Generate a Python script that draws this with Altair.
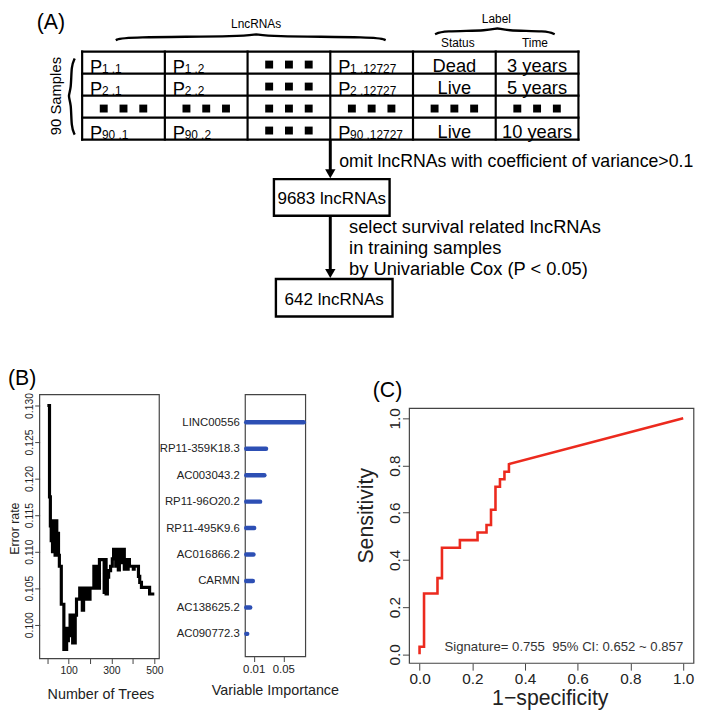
import altair as alt
import pandas as pd

# ================= DATA =================
# Panel A: schematic text
sample_ids = ["1", "2", "", "90"]          # "" -> ellipsis row
lnc_ids = ["1", "2", "", "12727"]          # "" -> ellipsis column
status_vals = ["Dead", "Live", "", "Live"]
time_vals = ["3 years", "5 years", "", "10 years"]
lnc_header = "LncRNAs"
label_header = "Label"
label_columns = ["Status", "Time"]
samples_text = "90 Samples"
flow_counts = ["9683 lncRNAs", "642 lncRNAs"]
flow_steps = [
    ["omit lncRNAs with coefficient of variance>0.1"],
    ["select survival related lncRNAs", "in training samples", "by Univariable Cox (P < 0.05)"],
]
panel_tags = ["(A)", "(B)", "(C)"]

# Panel B (left): error rate vs number of trees (step values)
trees = [1, 11, 15, 19, 22, 25, 28, 31, 34, 37, 41, 45, 49, 53, 57, 66, 78, 83, 87, 91,
         95, 99, 103, 107, 111, 115, 119, 123, 127, 131, 137, 152, 164, 170, 180, 186, 195, 200,
         218, 222, 226, 230, 236, 240, 244, 266, 270, 275, 281, 287, 296, 304, 310, 320, 324,
         332, 337, 347, 351, 360, 364, 372, 378, 384, 402, 406, 426, 432, 440, 478, 500]
error_rate = [0.1300, 0.1175, 0.1135, 0.1115, 0.1142, 0.1100, 0.1142, 0.1105, 0.1142, 0.1095,
              0.1142, 0.1095, 0.1125, 0.1095, 0.1080, 0.1028, 0.0966, 0.0995, 0.0966, 0.0995,
              0.0978, 0.0995, 0.0985, 0.1013, 0.0990, 0.1013, 0.0975, 0.1013, 0.0975, 0.1013,
              0.1035, 0.1050, 0.1020, 0.1050, 0.1035, 0.1050, 0.1035, 0.1050,
              0.1080, 0.1055, 0.1080, 0.1050, 0.1075, 0.1050, 0.1089, 0.1044, 0.1089, 0.1042,
              0.1065, 0.1074, 0.1080, 0.1090, 0.1103, 0.1080, 0.1103,
              0.1075, 0.1103, 0.1085, 0.1103, 0.1076, 0.1089, 0.1076, 0.1089, 0.1080, 0.1076,
              0.1080, 0.1066, 0.1058, 0.1051, 0.1042, 0.1042]

# Panel B (right): variable importance
genes = ["LINC00556", "RP11-359K18.3", "AC003043.2", "RP11-96O20.2", "RP11-495K9.6",
         "AC016866.2", "CARMN", "AC138625.2", "AC090772.3"]
importance = [0.0775, 0.0267, 0.0244, 0.0187, 0.0107, 0.0097, 0.0089, 0.0053, 0.0013]

# Panel C: ROC curve corner points
one_minus_spec = [0.0, 0.0, 0.017, 0.017, 0.068, 0.068, 0.085, 0.085, 0.153, 0.153, 0.220, 0.220,
                  0.254, 0.254, 0.271, 0.271, 0.288, 0.288, 0.305, 0.305, 0.322, 0.322, 0.339, 0.339, 1.0]
sensitivity = [0.0, 0.032, 0.032, 0.258, 0.258, 0.323, 0.323, 0.452, 0.452, 0.484, 0.484, 0.516,
               0.516, 0.548, 0.548, 0.613, 0.613, 0.710, 0.710, 0.742, 0.742, 0.774, 0.774, 0.806, 1.0]
roc_note = "Signature= 0.755 \u00a095% CI: 0.652 ~ 0.857"

# ================= LAYOUT / STYLE =================
M = 8                      # page margin: image px -> plot px
def P(v):
    return v - M

FONT = "Liberation Sans"
GREY = "#444444"
TXT = "#222222"
RED = "#ec2a1e"
BLUE = "#2d4fb4"

IX = lambda f: alt.X(f, type="quantitative", scale=None, axis=None)
IY = lambda f: alt.Y(f, type="quantitative", scale=None, axis=None)


def text_layer(rows, size, align="left", baseline="alphabetic", angle=0, color="black"):
    df = pd.DataFrame(rows, columns=["x", "y", "t"])
    return alt.Chart(df).mark_text(fontSize=size, align=align, baseline=baseline,
                                   angle=angle, color=color).encode(x=IX("x"), y=IY("y"), text="t:N")


def frame_layer(x0, x1, y0, y1, color=GREY, width=1.2):
    df = pd.DataFrame({"x": [P(x0)], "x2": [P(x1)], "y": [P(y0)], "y2": [P(y1)]})
    return alt.Chart(df).mark_rect(fillOpacity=0, stroke=color, strokeWidth=width).encode(
        x=IX("x"), x2="x2", y=IY("y"), y2="y2")


layers = []

# ---------- Panel A: table ----------
TX0, TY0, CW, RH = 83.0, 48.0, 83.67, 22.25
NC, NR = 6, len(sample_ids)
grid = []
for r in range(NR + 1):
    grid.append(dict(x=P(TX0), x2=P(TX0 + NC * CW), y=P(TY0 + r * RH), y2=P(TY0 + r * RH)))
for c in range(NC + 1):
    grid.append(dict(x=P(TX0 + c * CW), x2=P(TX0 + c * CW), y=P(TY0), y2=P(TY0 + NR * RH)))
layers.append(alt.Chart(pd.DataFrame(grid)).mark_rule(color="black", strokeWidth=2.2, strokeCap="square")
              .encode(x=IX("x"), x2="x2", y=IY("y"), y2="y2"))

p_rows, sub_rows, val_rows, sq_rows = [], [], [], []
for r, sid in enumerate(sample_ids):
    bottom = TY0 + (r + 1) * RH
    cy = TY0 + (r + 0.5) * RH
    for c in range(NC):
        left = TX0 + c * CW
        cx = left + CW / 2
        if c < 4:
            lid = lnc_ids[c]
            if sid == "" or lid == "":
                for d in (-20, 0, 20):
                    sq_rows.append((P(cx + d), P(cy + 2)))
            else:
                p_rows.append((P(left + 8), P(bottom - 1), "P"))
                sub_rows.append((P(left + 20), P(bottom - 1), f"{sid} .{lid}"))
        else:
            v = status_vals[r] if c == 4 else time_vals[r]
            if v == "":
                for d in (-20, 0, 20):
                    sq_rows.append((P(cx + d), P(cy + 2)))
            else:
                val_rows.append((P(cx), P(bottom - 2), v))

layers.append(text_layer(p_rows, 18.5))
layers.append(text_layer(sub_rows, 12))
layers.append(text_layer(val_rows, 18.5, align="center"))
layers.append(alt.Chart(pd.DataFrame(sq_rows, columns=["x", "y"])).mark_square(
    size=64, filled=True, color="black", opacity=1).encode(x=IX("x"), y=IY("y")))

# headers
layers.append(text_layer([(P(259), P(20), lnc_header), (P(502), P(15), label_header),
                          (P(463), P(39), label_columns[0]), (P(541), P(39), label_columns[1])],
                         12, align="center", baseline="middle"))
layers.append(text_layer([(P(57), P(93), samples_text)], 15, align="center", baseline="middle", angle=270))

# braces
def hbrace(g, x0, x1, xm, y, h):
    pts = [(x0, y + h), (x0 + 7, y), (xm - 7, y), (xm, y - h), (xm + 7, y), (x1 - 7, y), (x1, y + h)]
    return [dict(g=g, o=i, x=P(a), y=P(b)) for i, (a, b) in enumerate(pts)]

def vbrace(g, x, y0, y1, ym, w):
    pts = [(x + w, y0), (x, y0 + 7), (x, ym - 7), (x - w, ym), (x, ym + 7), (x, y1 - 7), (x + w, y1)]
    return [dict(g=g, o=i, x=P(a), y=P(b)) for i, (a, b) in enumerate(pts)]

br = hbrace("lnc", 117, 390, 259, 33, 3.5) + hbrace("lab", 440, 561, 503, 27, 3.5) + vbrace("smp", 72, 55, 132, 93, 3.5)
layers.append(alt.Chart(pd.DataFrame(br)).mark_line(interpolate="basis", color="black", strokeWidth=2.4)
              .encode(x=IX("x"), y=IY("y"), detail="g:N", order="o:Q"))

# flow chart
AX = TX0 + 3 * CW
boxes = [(277, 394, 177, 214), (279, 397, 278, 316)]
arrow_from = [TY0 + NR * RH, boxes[0][3]]
arrows = []
heads = []
for (bx0, bx1, by0, by1), start in zip(boxes, arrow_from):
    arrows.append(dict(x=P(AX), x2=P(AX), y=P(start), y2=P(by0 - 6)))
    heads.append(dict(x=P(AX), y=P(by0 - 5.5)))
layers.append(alt.Chart(pd.DataFrame(arrows)).mark_rule(color="black", strokeWidth=3)
              .encode(x=IX("x"), x2="x2", y=IY("y"), y2="y2"))
layers.append(alt.Chart(pd.DataFrame(heads)).mark_point(shape="triangle-down", size=110, filled=True,
                                                        color="black", opacity=1)
              .encode(x=IX("x"), y=IY("y")))
box_df = pd.DataFrame([dict(x=P(a), x2=P(b), y=P(c), y2=P(d)) for a, b, c, d in boxes])
layers.append(alt.Chart(box_df).mark_rect(fillOpacity=0, stroke="black", strokeWidth=2.4)
              .encode(x=IX("x"), x2="x2", y=IY("y"), y2="y2"))
layers.append(text_layer([(P((b[0] + b[1]) / 2), P((b[2] + b[3]) / 2 + 7), t)
                          for b, t in zip(boxes, flow_counts)], 17.2, align="center"))
note_rows = [(P(AX + 9), P(165), flow_steps[0][0])]
layers.append(text_layer(note_rows, 17.9))
note_rows2 = []
for i, line in enumerate(flow_steps[1]):
    note_rows2.append((P(AX + 19), P(231.5 + 21 * i), line))
layers.append(text_layer(note_rows2, 18.5))

# panel tags
layers.append(text_layer([(P(37), P(25), panel_tags[0]), (P(8), P(385), panel_tags[1]),
                          (P(377), P(397), panel_tags[2])], 21.5))

# ---------- Panel B left: error rate ----------
layers.append(frame_layer(40, 161, 395, 662))
err_df = pd.DataFrame({"trees": trees, "err": error_rate})
layers.append(alt.Chart(err_df).mark_line(interpolate="step-after", color="black", strokeWidth=3.2).encode(
    x=alt.X("trees:Q",
            scale=alt.Scale(domain=[0, 500], range=[P(47.6), P(156)], nice=False, zero=False),
            axis=alt.Axis(orient="bottom", offset=P(662) - 708, values=[0, 100, 200, 300, 400, 500],
                          labelExpr="datum.value % 200 == 100 ? datum.label : ''",
                          domain=False, grid=False, tickSize=5, tickColor=GREY, labelFontSize=10.5,
                          labelPadding=2, labelColor=TXT, labelFlush=False, labelOverlap=False,
                          title="Number of Trees", titleFontSize=14.5, titleFontWeight="normal",
                          titleColor=TXT, titleX=P(101.5), titleY=40, titleAlign="center",
                          titleBaseline="alphabetic")),
    y=alt.Y("err:Q",
            scale=alt.Scale(domain=[0.100, 0.130], range=[P(627.7), P(406)], nice=False, zero=False),
            axis=alt.Axis(orient="left", offset=-P(40),
                          values=[0.100, 0.105, 0.110, 0.115, 0.120, 0.125, 0.130], format=".3f",
                          domain=False, grid=False, tickSize=5, tickColor=GREY, labelFontSize=10.5,
                          labelAngle=270, labelAlign="center", labelBaseline="bottom", labelPadding=0,
                          labelColor=TXT, labelFlush=False, labelOverlap=False,
                          title="Error rate", titleFontSize=12.5, titleFontWeight="normal", titleColor=TXT,
                          titleAngle=270, titleX=14.5 - 40, titleY=P(530), titleAlign="center",
                          titleBaseline="middle")),
))

# ---------- Panel B right: variable importance ----------
layers.append(frame_layer(248, 309, 395, 660))
imp_df = pd.DataFrame({"gene": genes, "imp": importance, "start": [0.0] * len(genes)})
layers.append(alt.Chart(imp_df).mark_rule(color=BLUE, strokeWidth=4.5, strokeCap="round").encode(
    x=alt.X("start:Q",
            scale=alt.Scale(domain=[0, 0.1], range=[P(249), P(324)], nice=False, zero=False),
            axis=alt.Axis(orient="bottom", offset=P(660) - 708, values=[0.01, 0.05], format=".2f",
                          domain=False, grid=False, tickSize=5, tickColor=GREY, labelFontSize=11.5,
                          labelPadding=2.5, labelColor=TXT, labelFlush=False, labelOverlap=False,
                          title="Variable Importance", titleFontSize=14.5, titleFontWeight="normal",
                          titleColor=TXT, titleX=P(278), titleY=38, titleAlign="center",
                          titleBaseline="alphabetic")),
    x2="imp:Q",
    y=alt.Y("gene:N", sort=genes,
            scale=alt.Scale(type="point", domain=genes, range=[P(423), P(637)], padding=0),
            axis=alt.Axis(orient="left", offset=-P(248), ticks=False, tickSize=0, domain=False, grid=False,
                          labelPadding=6, labelFontSize=11.5, labelColor=TXT, labelOverlap=False,
                          title=None)),
))

# ---------- Panel C: ROC ----------
layers.append(frame_layer(414, 701.7, 409, 666.7))
xs_c = alt.Scale(domain=[0, 1], range=[P(424.3), P(691)], nice=False, zero=False)
ys_c = alt.Scale(domain=[0, 1], range=[P(657.7), P(419)], nice=False, zero=False)
roc_df = pd.DataFrame({"fpr": one_minus_spec, "tpr": sensitivity, "i": list(range(len(sensitivity)))})
layers.append(alt.Chart(roc_df).mark_line(color=RED, strokeWidth=2.6, strokeJoin="miter").encode(
    x=alt.X("fpr:Q", scale=xs_c,
            axis=alt.Axis(orient="bottom", offset=P(666.7) - 708, values=[0, 0.2, 0.4, 0.6, 0.8, 1.0],
                          format=".1f", domain=False, grid=False, tickSize=7, tickColor=GREY,
                          labelFontSize=15.5, labelPadding=1.5, labelColor=TXT, labelFlush=False,
                          labelOverlap=False, title="1\u2212specificity", titleFontSize=21.5,
                          titleFontWeight="normal", titleColor=TXT, titleX=P(556), titleY=41.5,
                          titleAlign="center", titleBaseline="alphabetic")),
    y=alt.Y("tpr:Q", scale=ys_c,
            axis=alt.Axis(orient="left", offset=-P(414), values=[0, 0.2, 0.4, 0.6, 0.8, 1.0],
                          format=".1f", domain=False, grid=False, tickSize=7, tickColor=GREY,
                          labelFontSize=15.5, labelAngle=270, labelAlign="center", labelBaseline="bottom",
                          labelPadding=0, labelColor=TXT, labelFlush=False, labelOverlap=False,
                          title="Sensitivity", titleFontSize=21.5, titleFontWeight="normal",
                          titleColor=TXT, titleAngle=270, titleX=370.5 - 414, titleY=P(517),
                          titleAlign="center", titleBaseline="middle")),
    order="i:Q",
))
note_df = pd.DataFrame({"x": [1.0], "y": [0.032], "t": [roc_note]})
layers.append(alt.Chart(note_df).mark_text(fontSize=13.3, align="right", baseline="middle", color="#333333")
              .encode(x=alt.X("x:Q", scale=xs_c, axis=None), y=alt.Y("y:Q", scale=ys_c, axis=None),
                      text="t:N"))

chart = (
    alt.layer(*layers)
    .resolve_scale(x="independent", y="independent")
    .properties(width=701, height=708, padding=0, autosize=alt.AutoSizeParams(type="none"))
    .configure(font=FONT)
    .configure_view(strokeWidth=0)
)

chart.save("out.html", embed_options={"renderer": "svg", "actions": False})
